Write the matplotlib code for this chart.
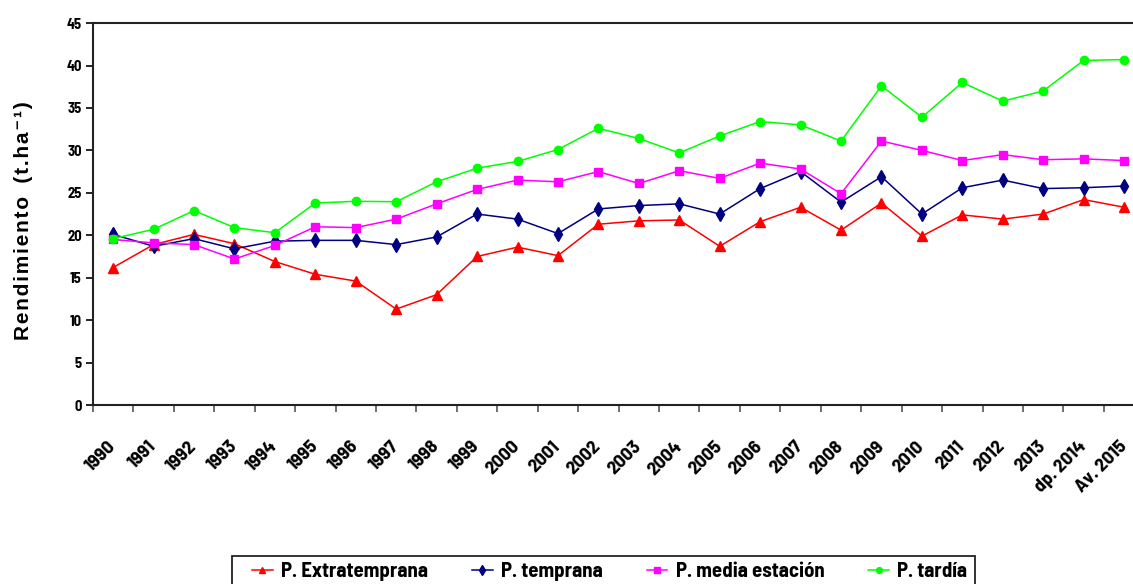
import matplotlib
import matplotlib.pyplot as plt
import matplotlib.transforms as mtransforms
from matplotlib.patches import Rectangle
import numpy as np

matplotlib.use("Agg")

years = [str(y) for y in range(1990, 2014)] + ["dp. 2014", "Av. 2015"]

extratemprana = [16.2, 18.9, 20.1, 19.0, 16.9, 15.4, 14.6, 11.3, 13.0, 17.5,
                 18.6, 17.6, 21.3, 21.7, 21.8, 18.7, 21.6, 23.3, 20.6, 23.8,
                 19.9, 22.4, 21.9, 22.5, 24.2, 23.3]
temprana = [20.1, 18.7, 19.6, 18.4, 19.3, 19.4, 19.4, 18.9, 19.8, 22.5,
            21.9, 20.2, 23.1, 23.5, 23.7, 22.5, 25.5, 27.5, 23.9, 26.9,
            22.5, 25.6, 26.5, 25.5, 25.6, 25.8]
media_estacion = [19.5, 19.1, 18.9, 17.2, 18.8, 21.0, 20.9, 21.9, 23.7, 25.4,
                  26.5, 26.3, 27.5, 26.1, 27.6, 26.7, 28.5, 27.8, 24.9, 31.1,
                  30.0, 28.8, 29.5, 28.9, 29.0, 28.8]
tardia = [19.6, 20.7, 22.9, 20.9, 20.3, 23.8, 24.0, 23.95, 26.3, 27.9,
          28.7, 30.1, 32.6, 31.4, 29.7, 31.7, 33.4, 33.0, 31.1, 37.6,
          33.9, 38.0, 35.8, 37.0, 40.6, 40.7]

series = [
    ("P. Extratemprana", extratemprana, "#ff0000", "^", 6.5),
    ("P. temprana", temprana, "#000080", "d", 7),
    ("P. media estación", media_estacion, "#ff00ff", "s", 6),
    ("P. tardía", tardia, "#00ff00", "o", 6),
]

narrow = ["Barlow Semi Condensed", "DejaVu Sans"]
regular = ["Liberation Sans", "DejaVu Sans"]

fig = plt.figure(figsize=(11.33, 5.84), dpi=100)
ax = fig.add_axes([0.082, 0.3065, 0.928, 0.654])

x = np.arange(len(years))
for label, vals, color, marker, ms in series:
    ax.plot(x, vals, color=color, marker=marker, markersize=ms,
            linewidth=1.1, label=label)

ax.set_xlim(-0.5, len(years) - 0.5)
ax.set_ylim(0, 45)
ax.set_yticks(range(0, 50, 5))
ax.set_yticklabels([str(v) for v in range(0, 50, 5)], fontfamily=narrow,
                   fontweight="bold", fontsize=10.5)
ax.set_xticks(x)
ax.set_xticklabels(years, rotation=45, ha="right", va="center",
                   rotation_mode="anchor", fontfamily=narrow,
                   fontweight="bold", fontsize=14)
shift = mtransforms.ScaledTranslation(-0.03, 0, fig.dpi_scale_trans)
for t in ax.get_xticklabels():
    t.set_transform(t.get_transform() + shift)
ax.set_xticks(np.arange(-0.5, len(years), 1), minor=True)
ax.tick_params(axis="x", which="major", length=0, pad=28)
ax.tick_params(axis="x", which="minor", length=5, width=1.2, color="#555555")
ax.tick_params(axis="y", length=5, width=1.2, pad=3)
for s in ax.spines.values():
    s.set_linewidth(1.5)
    s.set_color("#222222")

hs = "\u200a"
fig.text(0.021, 0.623,
         hs.join("Rendimiento") + "  " + hs + hs.join("(t.ha\u207b\u00b9)"),
         rotation=90, ha="center", va="center", fontsize=15,
         fontweight="bold", family=regular)

# legend box (cut at the bottom edge like the original)
fig.patches.append(Rectangle((232 / 1133, -0.05), (975 - 232) / 1133,
                             0.05 + (584 - 556) / 584,
                             transform=fig.transFigure, fill=False,
                             edgecolor="#222222", linewidth=1.3))
fig.legend(loc="upper left", bbox_to_anchor=(252 / 1133, 1 - 562 / 584),
           ncol=4, frameon=False, borderpad=0, borderaxespad=0,
           prop={"family": narrow, "weight": "bold", "size": 15},
           handlelength=1.0, handletextpad=0.4, columnspacing=2.1,
           markerscale=0.7)

fig.savefig("out.png", dpi=100)
